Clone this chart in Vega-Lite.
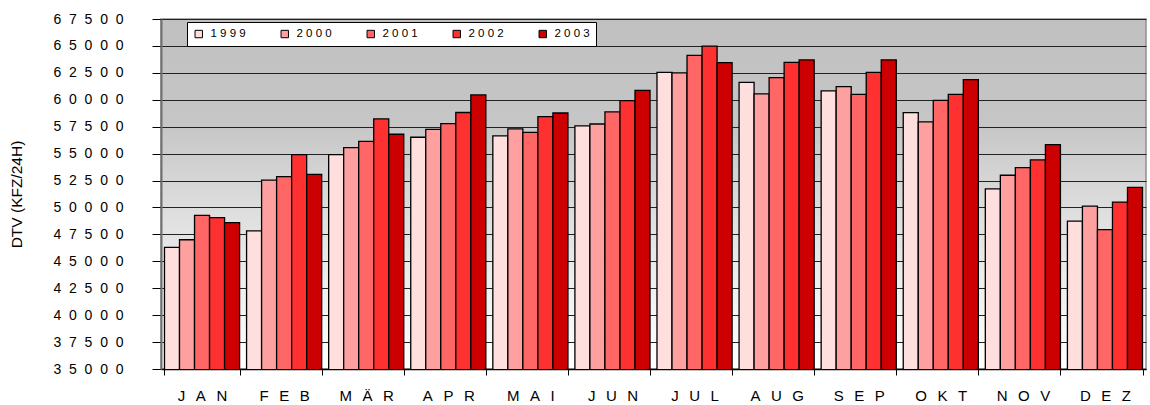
{
  "$schema": "https://vega.github.io/schema/vega-lite/v6.json",
  "width": 985,
  "height": 350,
  "autosize": {"type": "none"},
  "padding": {"left": 161, "top": 19, "right": 4, "bottom": 36},
  "background": "#ffffff",
  "config": {
    "font": "Liberation Sans",
    "view": {
      "stroke": "#909090",
      "strokeWidth": 1.5,
      "fill": {
        "gradient": "linear",
        "x1": 0, "y1": 0, "x2": 0, "y2": 1,
        "stops": [
          {"offset": 0, "color": "#c0c0c0"},
          {"offset": 0.3, "color": "#c6c6c6"},
          {"offset": 0.55, "color": "#dedede"},
          {"offset": 0.75, "color": "#eeeeee"},
          {"offset": 1, "color": "#ffffff"}
        ]
      }
    }
  },
  "data": {
    "values": [
      {"month": "JAN", "year": "1999", "dtv": 46300},
      {"month": "JAN", "year": "2000", "dtv": 47000},
      {"month": "JAN", "year": "2001", "dtv": 49270},
      {"month": "JAN", "year": "2002", "dtv": 49050},
      {"month": "JAN", "year": "2003", "dtv": 48590},
      {"month": "FEB", "year": "1999", "dtv": 47820},
      {"month": "FEB", "year": "2000", "dtv": 52530},
      {"month": "FEB", "year": "2001", "dtv": 52860},
      {"month": "FEB", "year": "2002", "dtv": 54900},
      {"month": "FEB", "year": "2003", "dtv": 53080},
      {"month": "MÄR", "year": "1999", "dtv": 54900},
      {"month": "MÄR", "year": "2000", "dtv": 55550},
      {"month": "MÄR", "year": "2001", "dtv": 56140},
      {"month": "MÄR", "year": "2002", "dtv": 58220},
      {"month": "MÄR", "year": "2003", "dtv": 56800},
      {"month": "APR", "year": "1999", "dtv": 56520},
      {"month": "APR", "year": "2000", "dtv": 57260},
      {"month": "APR", "year": "2001", "dtv": 57780},
      {"month": "APR", "year": "2002", "dtv": 58820},
      {"month": "APR", "year": "2003", "dtv": 60450},
      {"month": "MAI", "year": "1999", "dtv": 56640},
      {"month": "MAI", "year": "2000", "dtv": 57290},
      {"month": "MAI", "year": "2001", "dtv": 56980},
      {"month": "MAI", "year": "2002", "dtv": 58430},
      {"month": "MAI", "year": "2003", "dtv": 58770},
      {"month": "JUN", "year": "1999", "dtv": 57570},
      {"month": "JUN", "year": "2000", "dtv": 57750},
      {"month": "JUN", "year": "2001", "dtv": 58870},
      {"month": "JUN", "year": "2002", "dtv": 59920},
      {"month": "JUN", "year": "2003", "dtv": 60880},
      {"month": "JUL", "year": "1999", "dtv": 62550},
      {"month": "JUL", "year": "2000", "dtv": 62490},
      {"month": "JUL", "year": "2001", "dtv": 64130},
      {"month": "JUL", "year": "2002", "dtv": 64990},
      {"month": "JUL", "year": "2003", "dtv": 63450},
      {"month": "AUG", "year": "1999", "dtv": 61620},
      {"month": "AUG", "year": "2000", "dtv": 60540},
      {"month": "AUG", "year": "2001", "dtv": 62060},
      {"month": "AUG", "year": "2002", "dtv": 63480},
      {"month": "AUG", "year": "2003", "dtv": 63700},
      {"month": "SEP", "year": "1999", "dtv": 60820},
      {"month": "SEP", "year": "2000", "dtv": 61220},
      {"month": "SEP", "year": "2001", "dtv": 60510},
      {"month": "SEP", "year": "2002", "dtv": 62550},
      {"month": "SEP", "year": "2003", "dtv": 63700},
      {"month": "OKT", "year": "1999", "dtv": 58800},
      {"month": "OKT", "year": "2000", "dtv": 57940},
      {"month": "OKT", "year": "2001", "dtv": 59950},
      {"month": "OKT", "year": "2002", "dtv": 60510},
      {"month": "OKT", "year": "2003", "dtv": 61870},
      {"month": "NOV", "year": "1999", "dtv": 51720},
      {"month": "NOV", "year": "2000", "dtv": 52990},
      {"month": "NOV", "year": "2001", "dtv": 53700},
      {"month": "NOV", "year": "2002", "dtv": 54410},
      {"month": "NOV", "year": "2003", "dtv": 55830},
      {"month": "DEZ", "year": "1999", "dtv": 48740},
      {"month": "DEZ", "year": "2000", "dtv": 50130},
      {"month": "DEZ", "year": "2001", "dtv": 47940},
      {"month": "DEZ", "year": "2002", "dtv": 50500},
      {"month": "DEZ", "year": "2003", "dtv": 51870}
    ]
  },
  "mark": {"type": "bar", "stroke": "#000000", "strokeWidth": 1.3, "clip": true},
  "encoding": {
    "x": {
      "field": "month",
      "type": "nominal",
      "sort": null,
      "scale": {"paddingInner": 0.085, "paddingOuter": 0.0425},
      "axis": {
        "title": null,
        "labelAngle": 0,
        "labelFontSize": 15,
        "labelColor": "#000000",
        "labelPadding": 13,
        "labelExpr": "join(split(datum.label, ''), '\u2002\u2009')",
        "tickBand": "extent",
        "tickSize": 6,
        "tickColor": "#000000",
        "domainColor": "#000000",
        "domainWidth": 1.5,
        "grid": false
      }
    },
    "xOffset": {"field": "year", "type": "nominal", "scale": {"paddingInner": 0, "paddingOuter": 0}},
    "y": {
      "field": "dtv",
      "type": "quantitative",
      "scale": {"domain": [35000, 67500], "zero": false, "nice": false},
      "axis": {
        "title": "DTV (KFZ/24H)",
        "titleFont": "Liberation Sans",
        "titleFontSize": 15.5,
        "titleFontWeight": "normal",
        "titleColor": "#000000",
        "titlePadding": 28,
        "values": [35000, 37500, 40000, 42500, 45000, 47500, 50000, 52500, 55000, 57500, 60000, 62500, 65000, 67500],
        "labelExpr": "join(split(replace(datum.label, ',', ''), ''), '\u00a0\u00a0')",
        "labelFontSize": 14,
        "labelColor": "#000000",
        "labelPadding": 29,
        "tickSize": 9,
        "tickColor": "#000000",
        "domainColor": "#707070",
        "domainWidth": 2,
        "grid": true,
        "gridColor": "#222222",
        "gridWidth": 1.2
      }
    },
    "color": {
      "field": "year",
      "type": "nominal",
      "scale": {"range": ["#ffdede", "#ffa0a0", "#ff6666", "#ff3030", "#cc0000"]},
      "legend": {
        "title": null,
        "orient": "none",
        "direction": "horizontal",
        "legendX": 26,
        "legendY": 3,
        "fillColor": "#ffffff",
        "strokeColor": "#000000",
        "padding": 6,
        "symbolType": "square",
        "symbolSize": 55,
        "symbolStrokeColor": "#000000",
        "symbolStrokeWidth": 1,
        "symbolOpacity": 1,
        "labelFontSize": 11.5,
        "labelColor": "#000000",
        "labelOffset": 6,
        "columnPadding": 33,
        "labelExpr": "join(split(datum.label, ''), '\u00a0')"
      }
    }
  }
}
